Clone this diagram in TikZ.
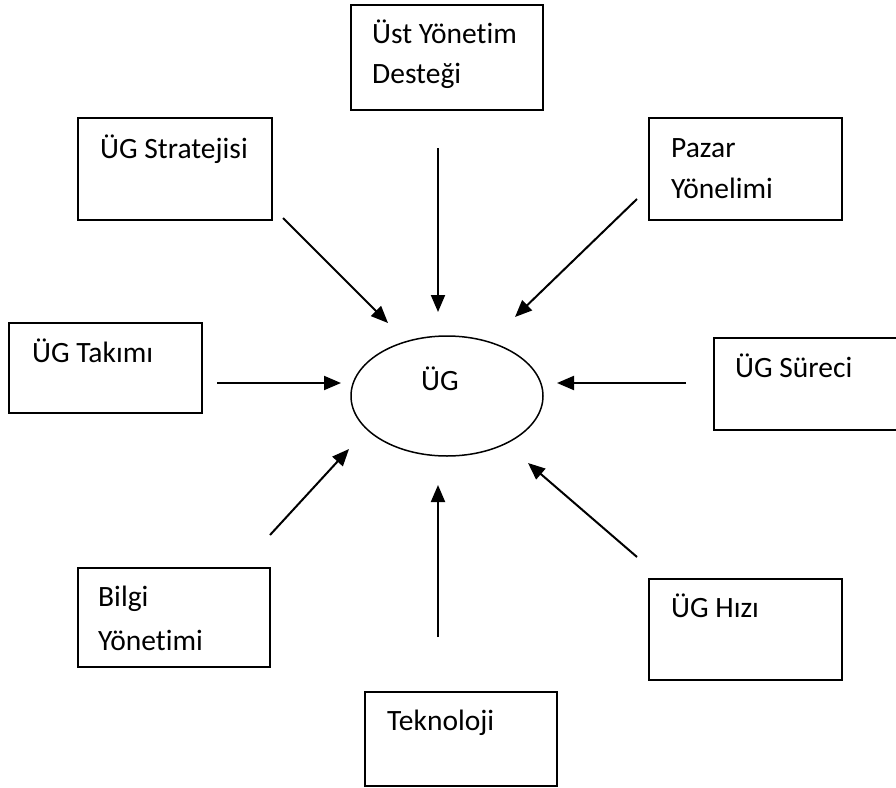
\documentclass[tikz,border=0pt]{standalone}
\usepackage{fontspec}
\setmainfont[Ligatures=NoCommon]{Carlito}
\usetikzlibrary{arrows.meta}
\begin{document}
\begin{tikzpicture}[x=1pt,y=-1pt,
  box/.style={draw, line width=1.8pt, inner sep=0pt, outer sep=0pt, anchor=north west},
  txt/.style={anchor=base west, inner sep=0pt, font=\fontsize{29.5}{40}\selectfont},
  arr/.style={line width=2pt, -{Triangle[length=17pt,width=14pt]}}]
  \useasboundingbox (0,0) rectangle (896,787);

  % factor boxes
  \node[box, minimum width=192pt, minimum height=105pt] (ust)   at (351,5)   {};
  \node[box, minimum width=194pt, minimum height=102pt] (strat) at (78,118)  {};
  \node[box, minimum width=193pt, minimum height=102pt] (pazar) at (649,118) {};
  \node[box, minimum width=193pt, minimum height=90pt]  (takim) at (9,323)   {};
  \node[box, minimum width=200pt, minimum height=92pt]  (surec) at (714,338) {};
  \node[box, minimum width=192pt, minimum height=99pt]  (bilgi) at (78,568)  {};
  \node[box, minimum width=193pt, minimum height=101pt] (hiz)   at (649,579) {};
  \node[box, minimum width=192pt, minimum height=94pt]  (tekno) at (365,692) {};

  % box labels
  \node[txt] (ustA)   at (372,43)  {Üst Yönetim};
  \node[txt] (ustB)   at (372,83)  {Desteği};
  \node[txt] (stratA) at (100,158) {ÜG Stratejisi};
  \node[txt] (pazarA) at (671,157) {Pazar};
  \node[txt] (pazarB) at (671,198) {Yönelimi};
  \node[txt] (takimA) at (32,362)  {ÜG Takımı};
  \node[txt] (surecA) at (735,377) {ÜG Süreci};
  \node[txt] (bilgiA) at (98,606)  {Bilgi};
  \node[txt] (bilgiB) at (98,650)  {Yönetimi};
  \node[txt] (hizA)   at (671,617) {ÜG Hızı};
  \node[txt] (teknoA) at (387,730) {Teknoloji};

  % central ellipse
  \draw[line width=1.5pt] (447,396) ellipse [x radius=96pt, y radius=60pt];
  \node[txt] (ug) at (421,390) {ÜG};

  % arrow end points
  \coordinate (s1) at (283,218); \coordinate (s2) at (388,323);
  \coordinate (u1) at (438,148); \coordinate (u2) at (438,312);
  \coordinate (p1) at (637,199); \coordinate (p2) at (515,317);
  \coordinate (t1) at (217,383); \coordinate (t2) at (341,383);
  \coordinate (r1) at (686,383); \coordinate (r2) at (557,383);
  \coordinate (b1) at (270,535); \coordinate (b2) at (349,449);
  \coordinate (k1) at (438,637); \coordinate (k2) at (438,485);
  \coordinate (h1) at (637,557); \coordinate (h2) at (528,463);

  \draw[arr] (s1) -- (s2);
  \draw[arr] (u1) -- (u2);
  \draw[arr] (p1) -- (p2);
  \draw[arr] (t1) -- (t2);
  \draw[arr] (r1) -- (r2);
  \draw[arr] (b1) -- (b2);
  \draw[arr] (k1) -- (k2);
  \draw[arr] (h1) -- (h2);
\end{tikzpicture}
\end{document}
